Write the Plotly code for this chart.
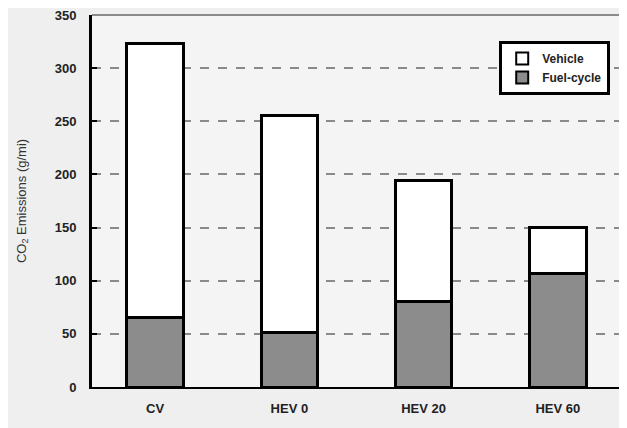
import plotly.graph_objects as go

categories = ["CV", "HEV 0", "HEV 20", "HEV 60"]
fuel_cycle = [65, 51, 80, 107]
vehicle = [258, 204, 114, 43]
y_ticks = [0, 50, 100, 150, 200, 250, 300, 350]

FAM = "Liberation Sans, Arial, sans-serif"

fig = go.Figure()
fig.add_trace(go.Bar(
    x=categories, y=fuel_cycle, name="Fuel-cycle",
    marker=dict(color="#8c8c8c", line=dict(color="black", width=3)),
    width=0.42,
))
fig.add_trace(go.Bar(
    x=categories, y=vehicle, name="Vehicle",
    marker=dict(color="white", line=dict(color="black", width=3)),
    width=0.42,
))

fig.update_layout(
    width=627, height=428,
    margin=dict(l=84, r=10, t=7, b=49),
    barmode="stack",
    paper_bgcolor="#efefef",
    plot_bgcolor="#f4f4f4",
    showlegend=True,
    legend=dict(
        x=0.764, y=0.93, xanchor="left", yanchor="top",
        traceorder="reversed",
        bgcolor="white", bordercolor="black", borderwidth=3,
        font=dict(family=FAM, size=12, color="#222", weight="bold"),
        itemsizing="constant",
        itemwidth=30,
        tracegroupgap=0,
    ),
    font=dict(family=FAM, size=12, color="#222"),
)

fig.update_xaxes(
    range=[-0.47, 3.5],
    automargin=False,
    showline=True, linecolor="black", linewidth=2,
    showgrid=False,
    tickfont=dict(family=FAM, size=13, color="#222", weight="bold"),
    ticks="",
    ticklabelstandoff=8,
)
fig.update_yaxes(
    range=[0, 350],
    automargin=False,
    tickvals=y_ticks,
    ticktext=[str(v) for v in y_ticks],
    showline=True, linecolor="black", linewidth=3,
    showgrid=True, gridcolor="#8a8a8a", gridwidth=2, griddash="dash",
    zeroline=False,
    ticks="inside", ticklen=5, tickwidth=2, tickcolor="black",
    ticklabelstandoff=10,
    ticklabeloverflow="allow",
    tickfont=dict(family=FAM, size=13, color="#222", weight="bold"),
    title=dict(text="CO<sub>2</sub> Emissions (g/mi)",
               font=dict(family=FAM, size=13, color="#333"),
               standoff=26),
)

fig.add_shape(type="line", xref="paper", yref="paper", x0=0, x1=1, y0=1, y1=1,
              line=dict(color="#8a8a8a", width=2))

fig.write_html("out.html")
